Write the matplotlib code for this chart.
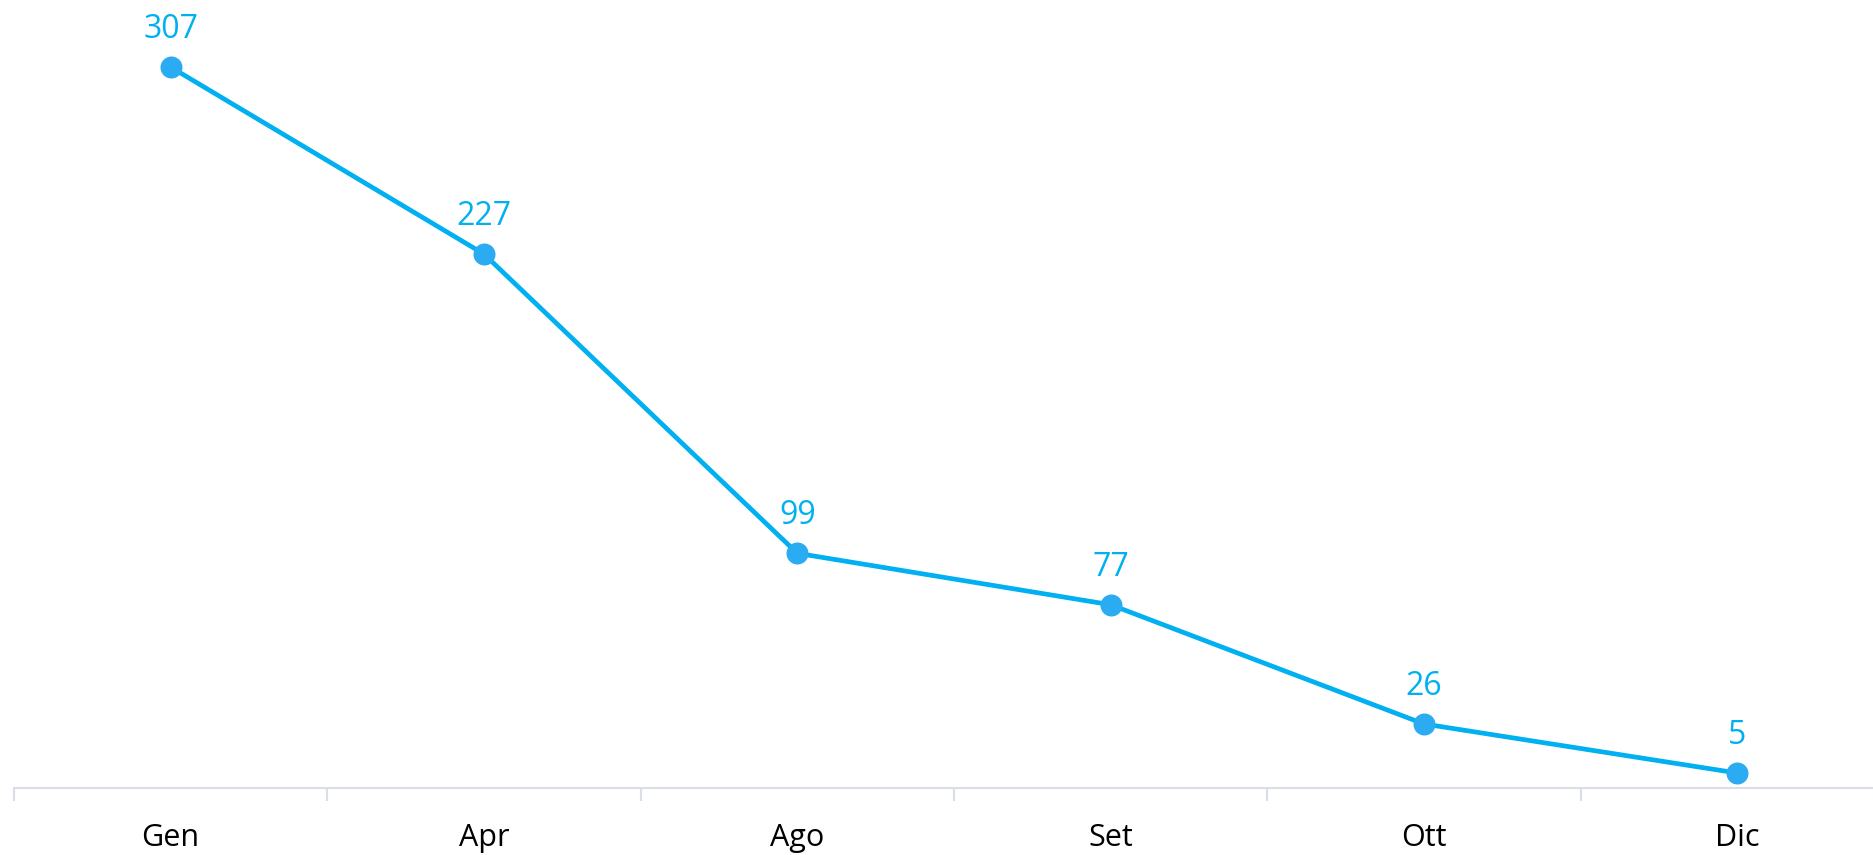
import numpy as np
import matplotlib.pyplot as plt

months = ["Gen", "Apr", "Ago", "Set", "Ott", "Dic"]
values = [307, 227, 99, 77, 26, 5]

line_color = "#00B0F0"
marker_color = "#2AABF2"
axis_color = "#D9DEE8"

plt.rcParams['font.family'] = ['Open Sans', 'DejaVu Sans']

fig = plt.figure(figsize=(18.74, 8.55), dpi=100)
# axes run a bit past the right edge, like the original
ax = fig.add_axes([14 / 1874, 67 / 855, 1880 / 1874, 788 / 855])

x = np.arange(len(months))
ax.plot(x, values, color=line_color, linewidth=3.4, zorder=2)
ax.scatter(x, values, s=220, color=marker_color, zorder=3)

for xi, v in zip(x, values):
    ax.annotate(str(v), (xi, v), xytext=(0, 15), textcoords="offset points",
                ha="center", va="bottom", fontsize=23, color=line_color)

ax.set_xlim(-0.5, len(months) - 0.5)
ax.set_ylim(-1.4, 335.7)

# category boundary ticks, labels in the middle
ax.set_xticks(np.arange(len(months) + 1) - 0.5)
ax.set_xticklabels([])
ax.set_xticks(x, minor=True)
ax.set_xticklabels(months, minor=True, fontsize=22)
ax.tick_params(axis="x", which="major", length=9, width=1.5, color=axis_color, direction="out")
ax.tick_params(axis="x", which="minor", length=0, pad=25)
ax.set_yticks([])

for s in ["top", "right", "left"]:
    ax.spines[s].set_visible(False)
ax.spines["bottom"].set_color(axis_color)
ax.spines["bottom"].set_linewidth(1.5)

fig.savefig("out.png", dpi=100)
